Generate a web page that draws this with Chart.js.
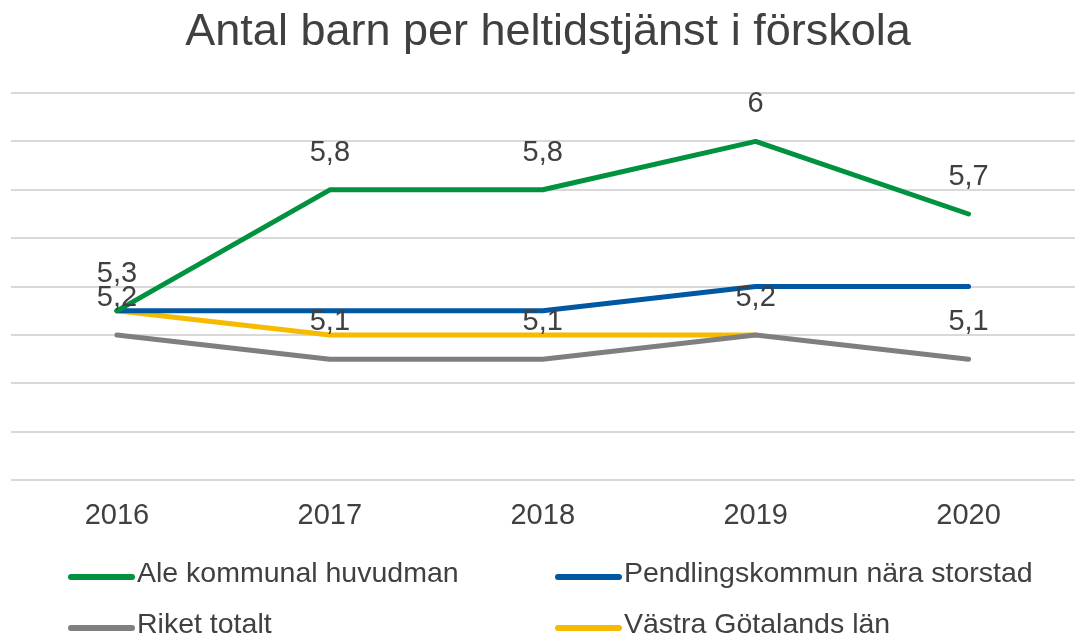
<!DOCTYPE html>
<html>
<head>
<meta charset="utf-8">
<title>Antal barn per heltidstjänst i förskola</title>
<script src="https://cdn.jsdelivr.net/npm/chart.js@4.4.1/dist/chart.umd.min.js"></script>
<style>
  html, body { margin: 0; padding: 0; background: #fff; }
  #wrap { width: 1075px; height: 639px; }
</style>
</head>
<body>
<div id="wrap"><canvas id="chart" width="1075" height="639"></canvas></div>
<script>
// data
const years = ['2016', '2017', '2018', '2019', '2020'];
const ale = [5.3, 5.8, 5.8, 6.0, 5.7];
const pendling = [5.3, 5.3, 5.3, 5.4, 5.4];
const riket = [5.2, 5.1, 5.1, 5.2, 5.1];
const vastra = [5.3, 5.2, 5.2, 5.2, null];

const yMin = 4.6;
const yMax = 6.2;
const yStep = 0.2;

const FONT = '"Liberation Sans", Arial, sans-serif';
const TEXT = '#404040';

function line(label, data, color, showValues) {
  return {
    label: label,
    data: data,
    borderColor: color,
    backgroundColor: color,
    borderWidth: 5,
    borderCapStyle: 'round',
    borderJoinStyle: 'round',
    pointRadius: 0,
    pointHoverRadius: 0,
    tension: 0,
    showValues: showValues
  };
}

// value labels above the points (only some series have them)
const valueLabels = {
  id: 'valueLabels',
  afterDatasetsDraw(chart) {
    const ctx = chart.ctx;
    ctx.save();
    ctx.font = '29px ' + FONT;
    ctx.fillStyle = TEXT;
    ctx.textAlign = 'center';
    ctx.textBaseline = 'middle';
    chart.data.datasets.forEach((ds, i) => {
      if (!ds.showValues) return;
      chart.getDatasetMeta(i).data.forEach((pt, j) => {
        const v = ds.data[j];
        if (v == null) return;
        ctx.fillText(String(v).replace('.', ','), pt.x, pt.y - 37);
      });
    });
    ctx.restore();
  }
};

// two column legend under the axis
const gridLegend = {
  id: 'gridLegend',
  afterDraw(chart, args, opts) {
    const ctx = chart.ctx;
    ctx.save();
    ctx.font = opts.fontSize + 'px ' + FONT;
    ctx.textBaseline = 'alphabetic';
    ctx.textAlign = 'left';
    chart.data.datasets.forEach((ds, i) => {
      const x = opts.cols[i % 2];
      const y = opts.rows[Math.floor(i / 2)];
      ctx.strokeStyle = ds.borderColor;
      ctx.lineWidth = 6;
      ctx.lineCap = 'round';
      ctx.beginPath();
      ctx.moveTo(x + 3, y);
      ctx.lineTo(x + opts.lineLen - 3, y);
      ctx.stroke();
      ctx.fillStyle = TEXT;
      ctx.fillText(ds.label, x + opts.lineLen + 2, y + 5);
    });
    ctx.restore();
  }
};

const chart = new Chart(document.getElementById('chart'), {
  type: 'line',
  data: {
    labels: years,
    datasets: [
      line('Ale kommunal huvudman', ale, '#00923f', true),
      line('Pendlingskommun nära storstad', pendling, '#0057a2', false),
      line('Riket totalt', riket, '#7f7f7f', true),
      line('Västra Götalands län', vastra, '#f6bb00', false)
    ]
  },
  plugins: [valueLabels, gridLegend],
  options: {
    responsive: false,
    animation: false,
    devicePixelRatio: 1,
    layout: {
      padding: { left: 10.5, right: -10.5, top: 0, bottom: 88 }
    },
    plugins: {
      legend: { display: false },
      tooltip: { enabled: false },
      title: {
        display: true,
        text: 'Antal barn per heltidstjänst i förskola',
        color: TEXT,
        font: { family: FONT, size: 45, weight: 'normal', lineHeight: 1.2 },
        padding: { top: 6, bottom: 33 }
      },
      gridLegend: {
        cols: [68, 555],
        rows: [577, 628],
        lineLen: 67,
        fontSize: 28.5
      }
    },
    scales: {
      x: {
        offset: true,
        grid: { display: false, drawTicks: false },
        border: { display: false },
        ticks: {
          color: TEXT,
          padding: 18,
          font: { family: FONT, size: 29, lineHeight: 1.2 }
        }
      },
      y: {
        min: yMin,
        max: yMax,
        grid: { color: '#d9d9d9', lineWidth: 2, drawTicks: false },
        border: { display: false },
        ticks: { display: false, stepSize: yStep }
      }
    }
  }
});
</script>
</body>
</html>
